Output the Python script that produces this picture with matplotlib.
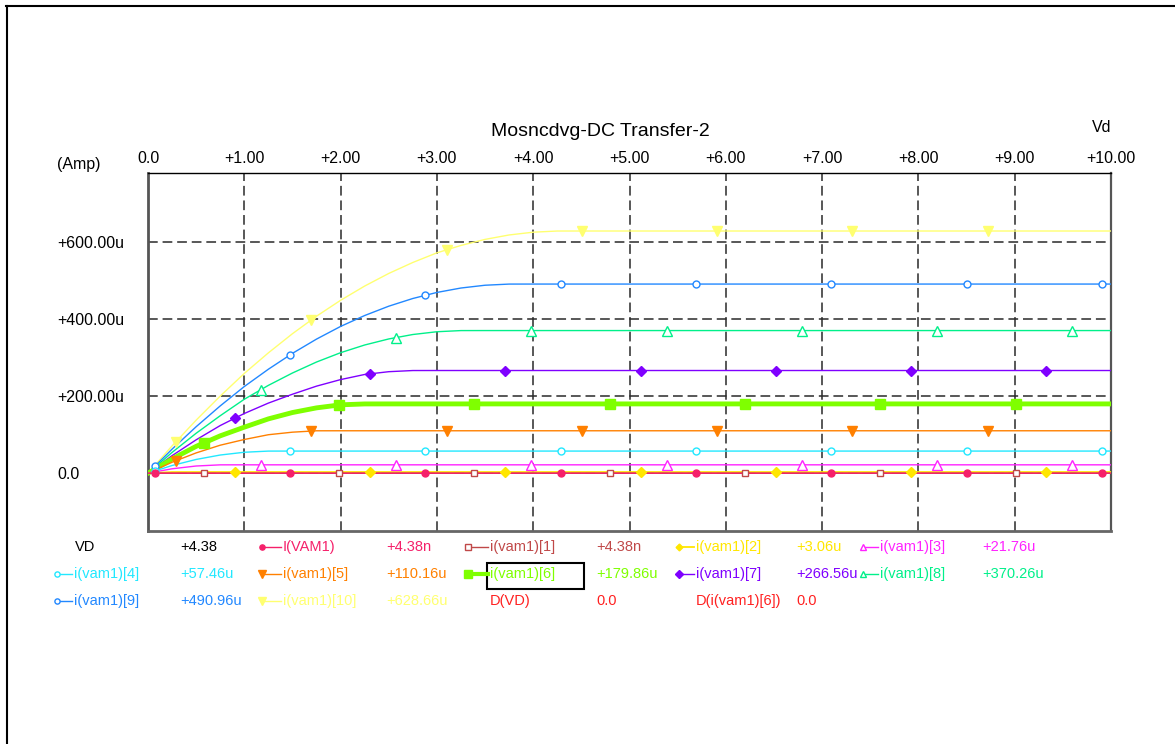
import numpy as np
import matplotlib
matplotlib.use('Agg')
import matplotlib.pyplot as plt
from matplotlib.lines import Line2D
from matplotlib.patches import Rectangle

plt.rcParams['font.family'] = ['Liberation Sans', 'DejaVu Sans']
plt.rcParams['lines.scale_dashes'] = False

W, H = 1175, 744

# DATA - VD (volts) and drain currents (uA)
vd = [0, 0.25, 0.5, 0.75, 1.0, 1.25, 1.5, 1.75, 2.0, 2.25, 2.5, 2.75,
      3.0, 3.25, 3.5, 3.75, 4.0, 4.25, 4.5, 10.0]

i_vam1 = [0, 0.004, 0.004, 0.004, 0.004, 0.004, 0.004, 0.004, 0.004, 0.004, 0.004, 0.004,
          0.004, 0.004, 0.004, 0.004, 0.004, 0.004, 0.004, 0.004]
i_1 = [0, 0.004, 0.004, 0.004, 0.004, 0.004, 0.004, 0.004, 0.004, 0.004, 0.004, 0.004,
       0.004, 0.004, 0.004, 0.004, 0.004, 0.004, 0.004, 0.004]
i_2 = [0, 3.0, 3.06, 3.06, 3.06, 3.06, 3.06, 3.06, 3.06, 3.06, 3.06, 3.06,
       3.06, 3.06, 3.06, 3.06, 3.06, 3.06, 3.06, 3.06]
i_3 = [0, 11.5, 18.7, 21.7, 21.76, 21.76, 21.76, 21.76, 21.76, 21.76, 21.76, 21.76,
       21.76, 21.76, 21.76, 21.76, 21.76, 21.76, 21.76, 21.76]
i_4 = [0, 20.0, 35.7, 47.2, 54.4, 57.4, 57.46, 57.46, 57.46, 57.46, 57.46, 57.46,
       57.46, 57.46, 57.46, 57.46, 57.46, 57.46, 57.46, 57.46]
i_5 = [0, 28.5, 52.7, 72.7, 87.5, 99.9, 106.5, 110.1, 110.16, 110.16, 110.16, 110.16,
       110.16, 110.16, 110.16, 110.16, 110.16, 110.16, 110.16, 110.16]
i_6 = [0, 37.0, 69.7, 97.0, 119.5, 141.0, 157.5, 169.6, 177.5, 179.8, 179.86, 179.86,
       179.86, 179.86, 179.86, 179.86, 179.86, 179.86, 179.86, 179.86]
i_7 = [0, 45.5, 86.7, 123.7, 155.0, 182.0, 205.0, 226.0, 243.0, 256.3, 263.5, 266.5,
       266.56, 266.56, 266.56, 266.56, 266.56, 266.56, 266.56, 266.56]
i_8 = [0, 54.0, 103.7, 149.2, 192.0, 228.0, 260.1, 288.6, 312.8, 332.8, 348.5, 360.0,
       367.2, 370.2, 370.26, 370.26, 370.26, 370.26, 370.26, 370.26]
i_9 = [0, 62.5, 120.7, 174.7, 225.0, 269.9, 311.1, 348.1, 381.0, 409.3, 433.5, 453.5,
       469.2, 480.7, 487.9, 490.9, 490.96, 490.96, 490.96, 490.96]
i_10 = [0, 71.0, 137.7, 200.2, 259.0, 312.4, 362.1, 407.6, 448.8, 485.8, 518.5, 547.0,
        572.0, 591.2, 606.9, 618.4, 625.6, 628.6, 628.66, 628.66]

series = [i_vam1, i_1, i_2, i_3, i_4, i_5, i_6, i_7, i_8, i_9, i_10]
names = ['I(VAM1)', 'i(vam1)[1]', 'i(vam1)[2]', 'i(vam1)[3]', 'i(vam1)[4]', 'i(vam1)[5]',
         'i(vam1)[6]', 'i(vam1)[7]', 'i(vam1)[8]', 'i(vam1)[9]', 'i(vam1)[10]']
cursor_values = ['+4.38n', '+4.38n', '+3.06u', '+21.76u', '+57.46u', '+110.16u',
                 '+179.86u', '+266.56u', '+370.26u', '+490.96u', '+628.66u']
cursor_vd = '+4.38'

x_ticks = [0, 1, 2, 3, 4, 5, 6, 7, 8, 9, 10]
x_labels = ['0.0', '+1.00', '+2.00', '+3.00', '+4.00', '+5.00', '+6.00', '+7.00',
            '+8.00', '+9.00', '+10.00']
y_ticks = [0, 200, 400, 600]
y_labels = ['0.0', '+200.00u', '+400.00u', '+600.00u']

# STYLES: color, marker, filled, line width, first marker VD
colors = ['#f5206a', '#c04848', '#ffe600', '#ff22ff', '#22e8ff', '#ff8000',
          '#7fff00', '#7f00ff', '#00f08a', '#2288ff', '#ffff70']
markers = ['o', 's', 'D', '^', 'o', 'v', 's', 'D', '^', 'o', 'v']
filled = [True, False, True, False, False, True, True, True, False, False, True]
msizes = [5, 5, 4.6, 6.5, 5, 7, 7, 5, 6.5, 5, 7]
widths = [1.0, 1.0, 1.3, 1.0, 1.0, 1.0, 3.5, 1.0, 1.0, 1.0, 1.0]
mark_start = [0.07, 0.58, 0.90, 1.17, 0.07, 0.29, 0.58, 0.90, 1.17, 0.07, 0.29]
mark_step = 1.405

fig = plt.figure(figsize=(W / 100, H / 100), dpi=100)
ax = fig.add_axes([148 / W, 1 - 531 / H, (1111 - 148) / W, (531 - 172.7) / H])

# CURVES + MARKERS (last series drawn first so I(VAM1) ends on top)
for k in reversed(range(len(series))):
    ax.plot(vd, series[k], color=colors[k], lw=widths[k], zorder=3)
    mx = np.arange(mark_start[k], 10.0, mark_step)
    my = np.interp(mx, vd, series[k])
    ax.plot(mx, my, ls='none', marker=markers[k], ms=msizes[k],
            mfc=colors[k] if filled[k] else 'white', mec=colors[k], mew=1.0,
            zorder=4)

ax.set_xlim(0, 10)
ax.set_ylim(-150, 780)

ax.xaxis.tick_top()
ax.set_xticks(x_ticks)
ax.set_xticklabels(x_labels)
ax.set_yticks(y_ticks)
ax.set_yticklabels(y_labels)
for lab in ax.get_yticklabels():
    lab.set_horizontalalignment('left')
ax.tick_params(axis='x', length=0, pad=5, labelsize=11.5)
ax.tick_params(axis='y', length=0, pad=65.5, labelsize=11.5)

ax.grid(True, color='#2a2a2a', lw=1.1, linestyle=(0, (7, 3.5)))
ax.set_axisbelow(True)

ax.spines['top'].set_color('black')
ax.spines['top'].set_linewidth(1.0)
ax.spines['left'].set_color('#555555')
ax.spines['left'].set_linewidth(2.0)
ax.spines['right'].set_color('#555555')
ax.spines['right'].set_linewidth(1.6)
ax.spines['bottom'].set_color('#666666')
ax.spines['bottom'].set_linewidth(2.0)

# TEXTS AROUND THE PLOT
fig.text(600 / W, 1 - 131 / H, 'Mosncdvg-DC Transfer-2', ha='center', va='center', fontsize=14)
fig.text(57 / W, 1 - 165 / H, '(Amp)', ha='left', va='center', fontsize=11.5)
fig.text(1102 / W, 1 - 128 / H, 'Vd', ha='center', va='center', fontsize=11.5)

# OUTER FRAME (top and left edges only)
fig.add_artist(Line2D([6 / W, 1], [1 - 5.5 / H, 1 - 5.5 / H], color='black', lw=1.5,
                      transform=fig.transFigure))
fig.add_artist(Line2D([6.5 / W, 6.5 / W], [1 - 5.5 / H, 0], color='black', lw=1.5,
                      transform=fig.transFigure))

# CURSOR TABLE UNDER THE PLOT
rows_y = [547, 574, 601]
slot_marker = [57, 262, 468, 679, 863]
slot_text = [74, 283, 490, 696, 880]
slot_value = [180, 386, 596, 796, 982]
fs = 10.5


def put(x, y, s, c):
    fig.text(x / W, 1 - y / H, s, ha='left', va='center', fontsize=fs, color=c)


put(75, rows_y[0], 'VD', 'black')
put(slot_value[0], rows_y[0], cursor_vd, 'black')

slots = [(0, 1), (0, 2), (0, 3), (0, 4),
         (1, 0), (1, 1), (1, 2), (1, 3), (1, 4),
         (2, 0), (2, 1)]
for k, (r, s) in enumerate(slots):
    y = 1 - rows_y[r] / H
    x0 = slot_marker[s] / W
    x1 = (slot_text[s] - 2) / W
    fig.add_artist(Line2D([x0, x1], [y, y], color=colors[k], lw=min(widths[k], 3.0),
                          transform=fig.transFigure))
    fig.add_artist(Line2D([x0], [y], ls='none', marker=markers[k], ms=msizes[k] * 0.75,
                          mfc=colors[k] if filled[k] else 'white', mec=colors[k], mew=1.0,
                          transform=fig.transFigure))
    put(slot_text[s], rows_y[r], names[k], colors[k])
    put(slot_value[s], rows_y[r], cursor_values[k], colors[k])

put(slot_text[2], rows_y[2], 'D(VD)', '#ff2020')
put(slot_value[2], rows_y[2], '0.0', '#ff2020')
put(slot_text[3], rows_y[2], 'D(i(vam1)[6])', '#ff2020')
put(slot_value[3], rows_y[2], '0.0', '#ff2020')

# selection box around i(vam1)[6]
fig.add_artist(Rectangle((487 / W, 1 - 589 / H), 97 / W, 26 / H, fill=False,
                         edgecolor='black', lw=1.5, transform=fig.transFigure))

fig.savefig('out.png', dpi=100)
